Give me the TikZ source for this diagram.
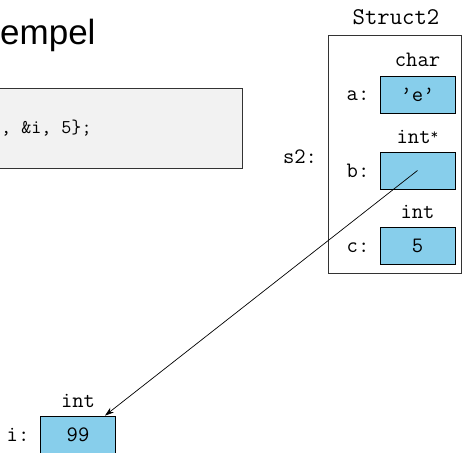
\documentclass[tikz,border=0pt]{standalone}
\usepackage{fontspec}
\newfontfamily\titlefont{Liberation Sans}
\usetikzlibrary{arrows.meta}
\definecolor{boxblue}{HTML}{87CEEB}
\definecolor{codegray}{HTML}{F2F2F2}
\newcommand{\rast}{\raisebox{4pt}{\fontsize{15}{15}\selectfont *}}
\begin{document}
\begin{tikzpicture}[x=1pt,y=-1pt,
  lbl/.style={font=\fontsize{22}{26}\selectfont\ttfamily, inner sep=0pt, anchor=base},
  valbox/.style={draw=black, line width=0.8pt, fill=boxblue, minimum width=75pt, minimum height=37pt, inner sep=0pt, font=\fontsize{22}{26}\selectfont\ttfamily},
  ptr/.style={-{Stealth[length=9pt,width=6pt]}, line width=0.7pt}]
\useasboundingbox (0,0) rectangle (462,452);
% title
\node[font=\fontsize{35}{40}\selectfont\titlefont, inner sep=0pt, anchor=base west] (title) at (0,45) {empel};
% code box
\node[draw=black!80, line width=0.8pt, fill=codegray, minimum width=260pt, minimum height=80pt, inner sep=0pt, anchor=north east] (code) at (243,88) {};
\node[font=\fontsize{19.5}{23}\selectfont\ttfamily, inner sep=0pt, anchor=base west] (codetxt) at (1,133) {, \&i, 5\};};
% struct
\node[lbl, font=\fontsize{24}{28}\selectfont\ttfamily] (sname) at (396,25) {Struct2};
\node[draw=black!80, line width=0.8pt, minimum width=133pt, minimum height=238pt, inner sep=0pt, anchor=north west] (outer) at (328,35) {};
\node[lbl] (s2) at (300,163) {s2:};
% a
\node[lbl] (ta) at (417.5,66) {char};
\node[valbox] (a) at (417.5,94.5) {’e’};
\node[lbl] (la) at (358,100) {a:};
% b
\node[lbl] (tb) at (417.5,143) {int\rast};
\node[valbox] (b) at (417.5,170.5) {};
\node[lbl] (lb) at (358,177) {b:};
% c
\node[lbl] (tc) at (417.5,218) {int};
\node[valbox] (c) at (417.5,246) {5};
\node[lbl] (lc) at (358,252) {c:};
% i
\node[lbl] (ti) at (78,407) {int};
\node[valbox] (i) at (78,434.5) {99};
\node[lbl] (li) at (18,441) {i:};
% pointer
\coordinate (bstart) at (b.center);
\coordinate (iend) at ([xshift=27pt]i.north);
\draw[ptr] (bstart) -- (iend);
\end{tikzpicture}
\end{document}
